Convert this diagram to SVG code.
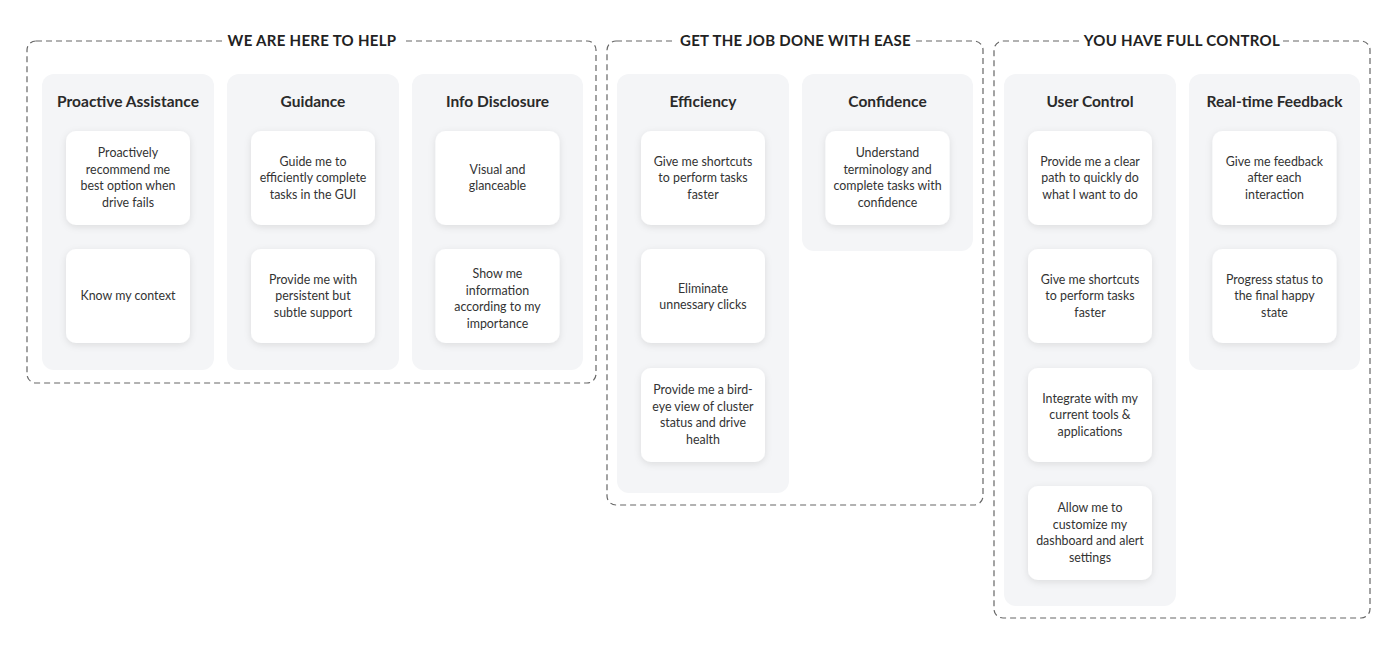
<svg xmlns="http://www.w3.org/2000/svg" width="1394" height="645" viewBox="0 0 1394 645">
<style>
.grp{fill:none;stroke:#666;stroke-width:1.2;stroke-dasharray:6 4}
.gt{font-family:Lato,"Liberation Sans",sans-serif;font-weight:700;font-size:15px;fill:#222;text-anchor:middle;letter-spacing:0.3px}
.col{fill:#f4f5f7}
.hd{font-family:Lato,"Liberation Sans",sans-serif;font-weight:700;font-size:15.5px;fill:#2a2a2a;text-anchor:middle}
.card{fill:#fff;filter:url(#sh)}
.ct{font-family:Lato,"Liberation Sans",sans-serif;font-size:12.4px;fill:#333;text-anchor:middle}
</style>
<defs>
<filter id="sh" x="-20%" y="-20%" width="140%" height="150%">
<feDropShadow dx="0" dy="2" stdDeviation="3.5" flood-color="#000" flood-opacity="0.10"/>
</filter>
</defs>
<rect width="1394" height="645" fill="#fff"/>

<g id="group-help">
<rect class="grp" x="27" y="41" width="569" height="342" rx="9"/>
<rect x="222" y="30" width="180" height="22" fill="#fff"/>
<text class="gt" x="312" y="45.5">WE ARE HERE TO HELP</text>
</g>
<g id="group-ease">
<rect class="grp" x="607" y="41" width="376" height="464" rx="9"/>
<rect x="676" y="30" width="239" height="22" fill="#fff"/>
<text class="gt" x="795.5" y="45.5">GET THE JOB DONE WITH EASE</text>
</g>
<g id="group-control">
<rect class="grp" x="994" y="41" width="376" height="577" rx="9"/>
<rect x="1081" y="30" width="202" height="22" fill="#fff"/>
<text class="gt" x="1182" y="45.5">YOU HAVE FULL CONTROL</text>
</g>

<g id="col-proactive">
<rect class="col" x="42" y="74" width="172" height="296" rx="12"/>
<text class="hd" x="128" y="107">Proactive Assistance</text>
<rect class="card" x="66" y="131" width="124" height="94" rx="10"/>
<text class="ct" x="128"><tspan x="128" y="157.3">Proactively</tspan><tspan x="128" y="173.8">recommend me</tspan><tspan x="128" y="190.3">best option when</tspan><tspan x="128" y="206.8">drive fails</tspan></text>
<rect class="card" x="66" y="249" width="124" height="94" rx="10"/>
<text class="ct" x="128" y="300">Know my context</text>
</g>

<g id="col-guidance">
<rect class="col" x="227" y="74" width="172" height="296" rx="12"/>
<text class="hd" x="313" y="107">Guidance</text>
<rect class="card" x="251" y="131" width="124" height="94" rx="10"/>
<text class="ct"><tspan x="313" y="165.5">Guide me to</tspan><tspan x="313" y="182">efficiently complete</tspan><tspan x="313" y="198.5">tasks in the GUI</tspan></text>
<rect class="card" x="251" y="249" width="124" height="94" rx="10"/>
<text class="ct"><tspan x="313" y="283.5">Provide me with</tspan><tspan x="313" y="300">persistent but</tspan><tspan x="313" y="316.5">subtle support</tspan></text>
</g>

<g id="col-info">
<rect class="col" x="412" y="74" width="171" height="296" rx="12"/>
<text class="hd" x="497.5" y="107">Info Disclosure</text>
<rect class="card" x="435.5" y="131" width="124" height="94" rx="10"/>
<text class="ct"><tspan x="497.5" y="173.8">Visual and</tspan><tspan x="497.5" y="190.3">glanceable</tspan></text>
<rect class="card" x="435.5" y="249" width="124" height="94" rx="10"/>
<text class="ct"><tspan x="497.5" y="278.3">Show me</tspan><tspan x="497.5" y="294.8">information</tspan><tspan x="497.5" y="311.3">according to my</tspan><tspan x="497.5" y="327.8">importance</tspan></text>
</g>

<g id="col-efficiency">
<rect class="col" x="617" y="74" width="172" height="419" rx="12"/>
<text class="hd" x="703" y="107">Efficiency</text>
<rect class="card" x="641" y="131" width="124" height="94" rx="10"/>
<text class="ct"><tspan x="703" y="165.5">Give me shortcuts</tspan><tspan x="703" y="182">to perform tasks</tspan><tspan x="703" y="198.5">faster</tspan></text>
<rect class="card" x="641" y="249" width="124" height="94" rx="10"/>
<text class="ct"><tspan x="703" y="292.8">Eliminate</tspan><tspan x="703" y="309.3">unnessary clicks</tspan></text>
<rect class="card" x="641" y="368" width="124" height="94" rx="10"/>
<text class="ct"><tspan x="703" y="394.3">Provide me a bird-</tspan><tspan x="703" y="410.8">eye view of cluster</tspan><tspan x="703" y="427.3">status and drive</tspan><tspan x="703" y="443.8">health</tspan></text>
</g>

<g id="col-confidence">
<rect class="col" x="802" y="74" width="171" height="177" rx="12"/>
<text class="hd" x="887.5" y="107">Confidence</text>
<rect class="card" x="825.5" y="131" width="124" height="94" rx="10"/>
<text class="ct"><tspan x="887.5" y="157.3">Understand</tspan><tspan x="887.5" y="173.8">terminology and</tspan><tspan x="887.5" y="190.3">complete tasks with</tspan><tspan x="887.5" y="206.8">confidence</tspan></text>
</g>

<g id="col-usercontrol">
<rect class="col" x="1004" y="74" width="172" height="532" rx="12"/>
<text class="hd" x="1090" y="107">User Control</text>
<rect class="card" x="1028" y="131" width="124" height="94" rx="10"/>
<text class="ct"><tspan x="1090" y="165.5">Provide me a clear</tspan><tspan x="1090" y="182">path to quickly do</tspan><tspan x="1090" y="198.5">what I want to do</tspan></text>
<rect class="card" x="1028" y="249" width="124" height="94" rx="10"/>
<text class="ct"><tspan x="1090" y="283.5">Give me shortcuts</tspan><tspan x="1090" y="300">to perform tasks</tspan><tspan x="1090" y="316.5">faster</tspan></text>
<rect class="card" x="1028" y="368" width="124" height="94" rx="10"/>
<text class="ct"><tspan x="1090" y="402.5">Integrate with my</tspan><tspan x="1090" y="419">current tools &amp;</tspan><tspan x="1090" y="435.5">applications</tspan></text>
<rect class="card" x="1028" y="486" width="124" height="94" rx="10"/>
<text class="ct"><tspan x="1090" y="512.3">Allow me to</tspan><tspan x="1090" y="528.8">customize my</tspan><tspan x="1090" y="545.3">dashboard and alert</tspan><tspan x="1090" y="561.8">settings</tspan></text>
</g>

<g id="col-feedback">
<rect class="col" x="1189" y="74" width="171" height="296" rx="12"/>
<text class="hd" x="1274.5" y="107">Real-time Feedback</text>
<rect class="card" x="1212.5" y="131" width="124" height="94" rx="10"/>
<text class="ct"><tspan x="1274.5" y="165.5">Give me feedback</tspan><tspan x="1274.5" y="182">after each</tspan><tspan x="1274.5" y="198.5">interaction</tspan></text>
<rect class="card" x="1212.5" y="249" width="124" height="94" rx="10"/>
<text class="ct"><tspan x="1274.5" y="283.5">Progress status to</tspan><tspan x="1274.5" y="300">the final happy</tspan><tspan x="1274.5" y="316.5">state</tspan></text>
</g>

<g id="connectors"></g>
</svg>
